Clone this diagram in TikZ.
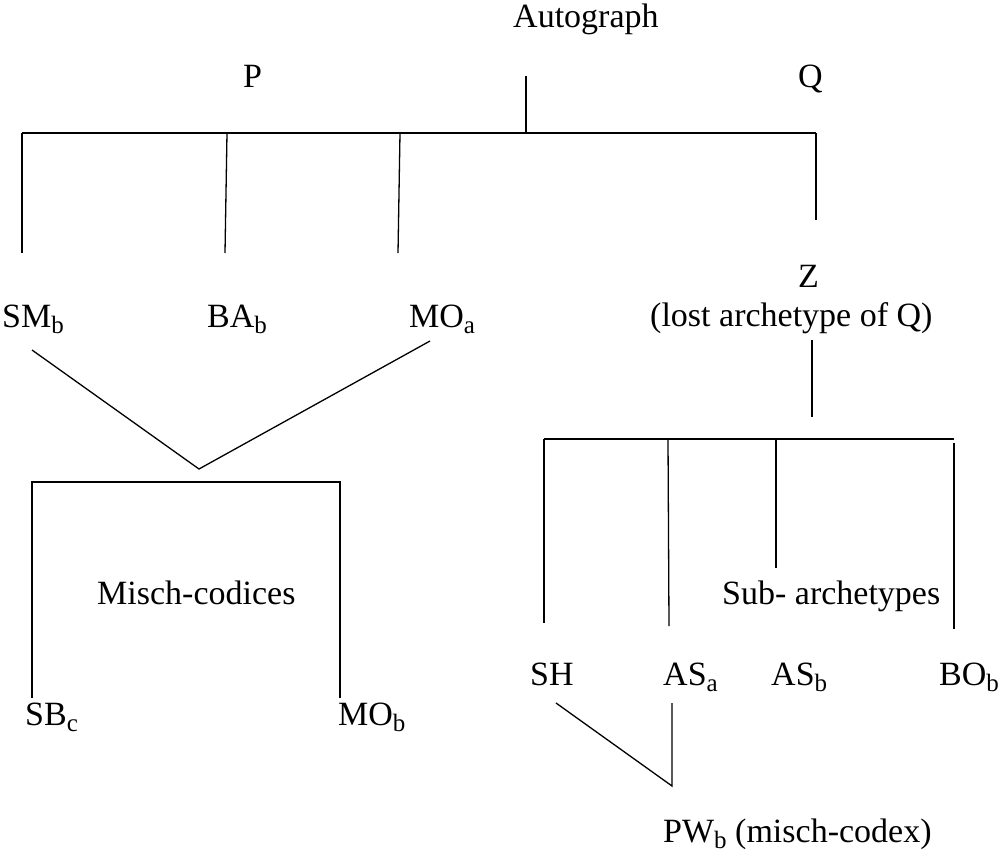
\documentclass[tikz,border=0pt]{standalone}
\usepackage{fontspec}
\setmainfont{Liberation Serif}
\newcommand\lowsub[1]{\raisebox{-0.2em}{\fontsize{25}{25}\selectfont #1}}
\tikzset{
  lbl/.style={anchor=base west, inner sep=0pt, font=\fontsize{34}{40}\selectfont},
  ln/.style={line width=1.3pt, line cap=butt},
  bar/.style={line width=1.8pt}
}
\begin{document}
\begin{tikzpicture}[x=1pt,y=-1pt]
\useasboundingbox (0,0) rectangle (998,854);
% labels
\node[lbl] (auto) at (513,27) {Autograph};
\node[lbl] (P) at (243,87) {P};
\node[lbl] (Q) at (798,87) {Q};
\node[lbl] (Z) at (798,287) {Z};
\node[lbl] (lost) at (650,326) {(lost archetype of Q)};
\node[lbl] (SMb) at (2,327) {SM\lowsub{b}};
\node[lbl] (BAb) at (207,327) {BA\lowsub{b}};
\node[lbl] (MOa) at (409,327) {MO\lowsub{a}};
\node[lbl] (misch) at (97,604) {Misch-codices};
\node[lbl] (sub) at (722,604) {Sub- archetypes};
\node[lbl] (SH) at (530,685) {SH};
\node[lbl] (ASa) at (663,685) {AS\lowsub{a}};
\node[lbl] (ASb) at (771,685) {AS\lowsub{b}};
\node[lbl] (BOb) at (939,685) {BO\lowsub{b}};
\node[lbl] (SBc) at (25,725) {SB\lowsub{c}};
\node[lbl] (MOb) at (338,725) {MO\lowsub{b}};
\node[lbl] (PWb) at (663,842) {PW\lowsub{b} (misch-codex)};
% junction coordinates
\coordinate (aTop) at (526,76);
\coordinate (aJ) at (526,133);
\coordinate (b1) at (22,133);
\coordinate (b2) at (227,133);
\coordinate (b3) at (400,133);
\coordinate (b4) at (816,133);
\coordinate (e1) at (22,253);
\coordinate (e2) at (225,253);
\coordinate (e3) at (398,253);
\coordinate (e4) at (816,220);
\coordinate (vL) at (32,350);
\coordinate (vM) at (199,469);
\coordinate (vR) at (430,341);
\coordinate (m1) at (32,482);
\coordinate (m2) at (340,482);
\coordinate (m1e) at (32,698);
\coordinate (m2e) at (340,698);
\coordinate (zTop) at (812,340);
\coordinate (zBot) at (812,417);
\coordinate (s1) at (544,439);
\coordinate (s2) at (668,439);
\coordinate (s3) at (776,439);
\coordinate (s4) at (954,439);
\coordinate (s4t) at (954,443);
\coordinate (t1) at (544,623);
\coordinate (t2) at (669,626);
\coordinate (t3) at (776,568);
\coordinate (t4) at (954,629);
\coordinate (pL) at (556,703);
\coordinate (pJ) at (672,786);
\coordinate (pT) at (672,703);
% connectors
\draw[ln] (aTop) -- (aJ);
\draw[bar] (b1) -- (b4);
\draw[ln] (b1) -- (e1);
\draw[ln] (b2) -- (e2);
\draw[ln] (b3) -- (e3);
\draw[ln] (b4) -- (e4);
\draw[ln] (vL) -- (vM) -- (vR);
\draw[ln] (m1e) -- (m1) -- (m2) -- (m2e);
\draw[ln] (zTop) -- (zBot);
\draw[bar] (s1) -- (s4);
\draw[ln] (s1) -- (t1);
\draw[ln] (s2) -- (t2);
\draw[ln] (s3) -- (t3);
\draw[ln] (s4t) -- (t4);
\draw[ln] (pL) -- (pJ) -- (pT);
\end{tikzpicture}
\end{document}
